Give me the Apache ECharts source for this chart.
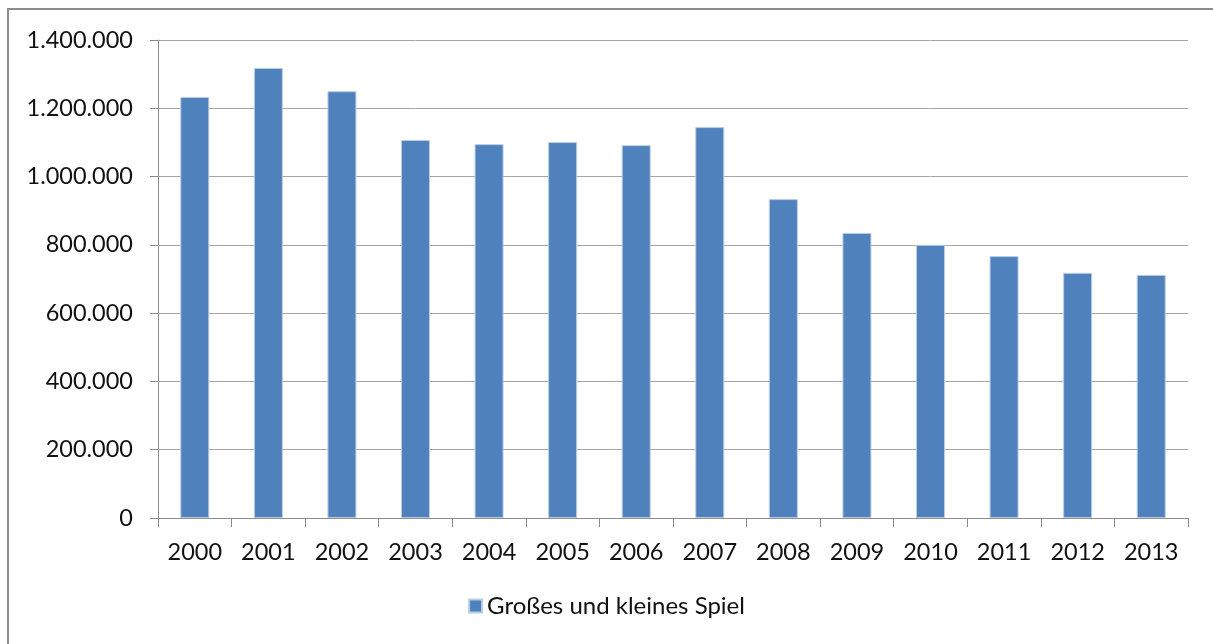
<!DOCTYPE html>
<html>
<head>
<meta charset="utf-8">
<script src="https://cdn.jsdelivr.net/npm/echarts@6/dist/echarts.min.js"></script>
<style>
  html, body { margin: 0; padding: 0; background: #fff; }
  #main { width: 1213px; height: 644px; }
</style>
</head>
<body>
<div id="main"></div>
<script>
// Jahre und Werte
const years = ['2000', '2001', '2002', '2003', '2004', '2005', '2006',
               '2007', '2008', '2009', '2010', '2011', '2012', '2013'];
const values = [1233000, 1318000, 1250000, 1107000, 1095000, 1101000, 1092000,
                1145000, 934000, 835000, 800000, 767000, 718000, 712000];
const seriesName = 'Großes und kleines Spiel';

const fontFamily = 'Lato, "Open Sans", sans-serif';

// Zahlen mit Punkt als Tausendertrennzeichen
function fmt(v) {
  return String(v).replace(/\B(?=(\d{3})+(?!\d))/g, '.');
}

var myChart = echarts.init(document.getElementById('main'));

myChart.setOption({
  animation: false,
  backgroundColor: '#fff',
  graphic: [
    {
      type: 'rect',
      shape: { x: 8, y: 9, width: 1230, height: 660 },
      style: { fill: 'none', stroke: '#8c8c8c', lineWidth: 2 },
      silent: true
    }
  ],
  grid: { left: 158, right: 25, top: 40, bottom: 126 },
  legend: {
    bottom: 21,
    left: 'center',
    itemWidth: 13,
    itemHeight: 13,
    itemGap: 8,
    icon: 'rect',
    textStyle: { fontFamily: fontFamily, fontSize: 24, color: '#111' },
    data: [seriesName]
  },
  xAxis: {
    type: 'category',
    data: years,
    axisLine: { lineStyle: { color: '#8c8c8c', width: 1 } },
    axisTick: { show: true, length: 9, lineStyle: { color: '#8c8c8c' } },
    axisLabel: { fontFamily: fontFamily, fontSize: 23.5, color: '#111', margin: 22 }
  },
  yAxis: {
    type: 'value',
    min: 0,
    max: 1400000,
    interval: 200000,
    axisLine: { show: true, lineStyle: { color: '#8c8c8c', width: 1 } },
    axisTick: { show: true, inside: false, length: 8, lineStyle: { color: '#8c8c8c' } },
    splitLine: { lineStyle: { color: '#a6a6a6', width: 1 } },
    axisLabel: {
      fontFamily: fontFamily, fontSize: 23.5, color: '#111', margin: 25,
      formatter: fmt
    }
  },
  series: [
    {
      name: seriesName,
      type: 'bar',
      data: values,
      barWidth: 29,
      itemStyle: { color: '#4f81bd', borderColor: '#b9cde5', borderWidth: 1 }
    }
  ]
});
</script>
</body>
</html>
